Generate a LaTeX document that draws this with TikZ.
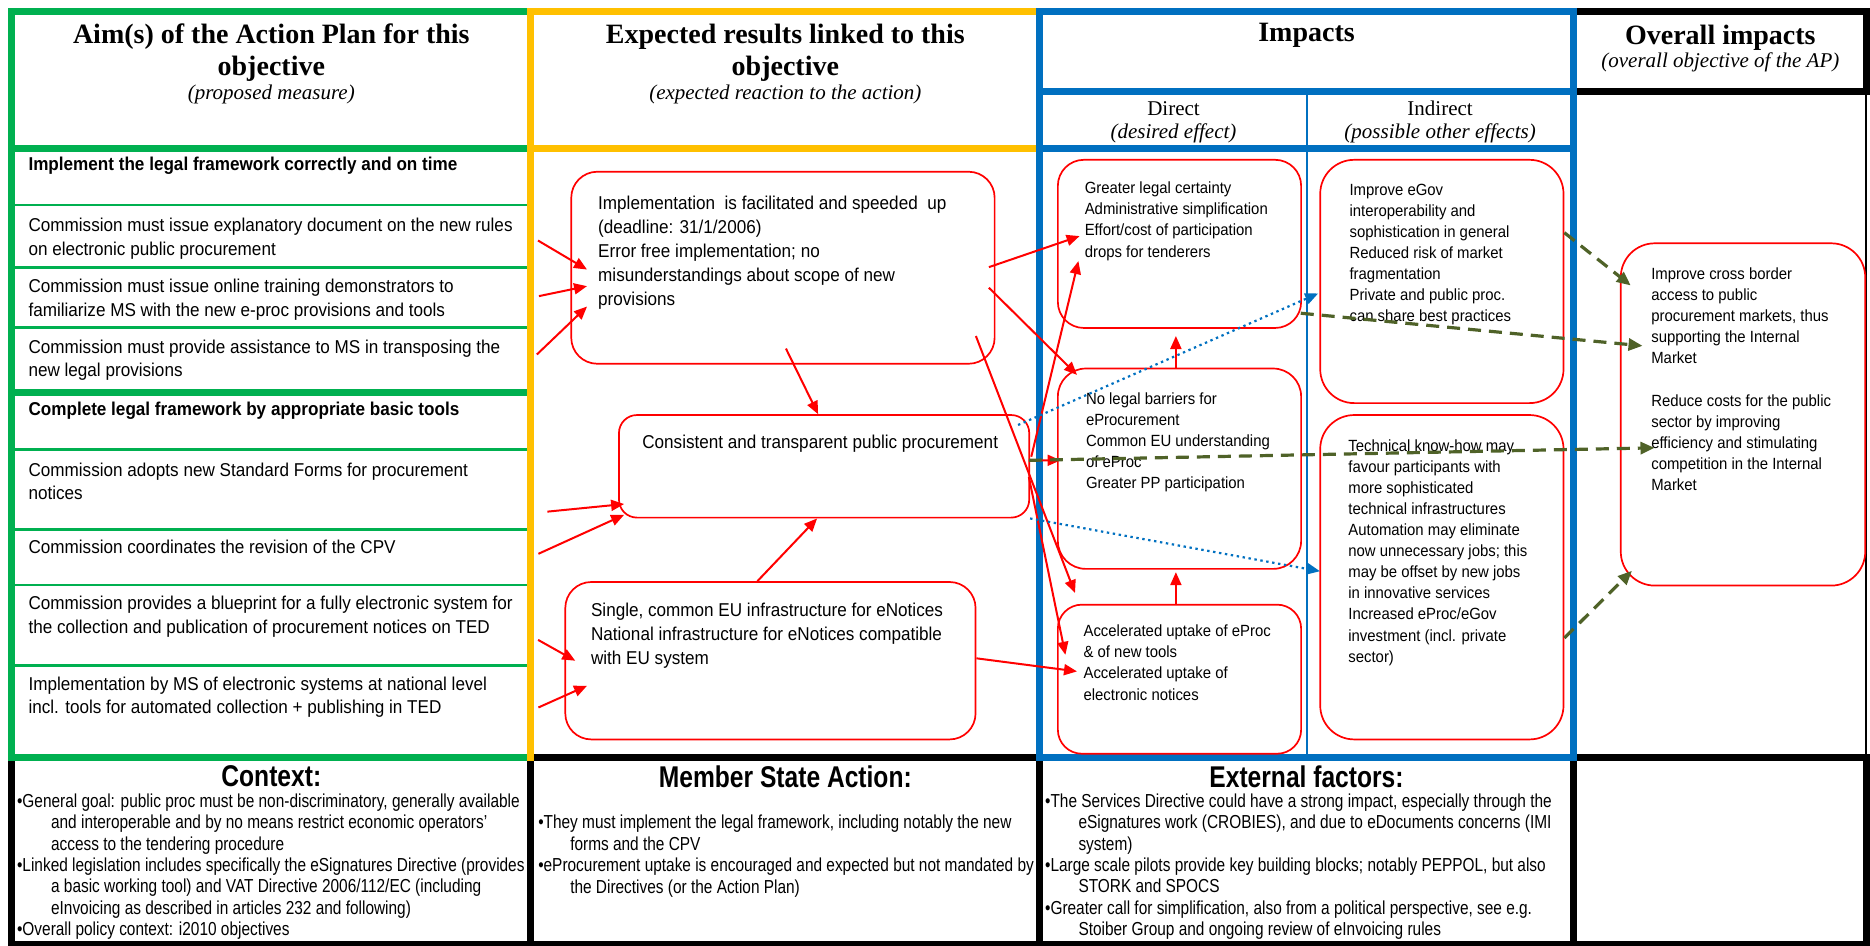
\documentclass[tikz,border=0pt]{standalone}
\usepackage{fontspec}
\setmainfont{Liberation Serif}
\newfontfamily\boxfont[FakeStretch=0.92]{Liberation Sans}
\newfontfamily\notefont[FakeStretch=0.82]{Liberation Sans}
\usetikzlibrary{arrows.meta, positioning, calc, fit}

\definecolor{aimgreen}{HTML}{00B050}
\definecolor{resyellow}{HTML}{FFC000}
\definecolor{impblue}{HTML}{0070C0}
\definecolor{linkolive}{HTML}{4F6228}

\tikzset{
  frame/.style={line width=3.5pt, line cap=rect},
  rowline/.style={line width=1.3pt, aimgreen},
  cell/.style={inner sep=0pt},
  coltitle/.style={anchor=north, inner sep=0pt, align=center, font=\bfseries\fontsize{14}{15.8}\selectfont},
  colnote/.style={anchor=north, inner sep=0pt, font=\itshape\fontsize{10.5}{12}\selectfont},
  subtitle/.style={anchor=north, inner sep=0pt, font=\fontsize{10.5}{12}\selectfont},
  aimtext/.style={inner sep=0pt, align=left, font=\boxfont\fontsize{9.3}{11.7}\selectfont},
  aimhead/.style={inner sep=0pt, align=left, font=\boxfont\bfseries\fontsize{9.3}{11.7}\selectfont},
  linkbox/.style={draw=red, line width=0.85pt, rounded corners=#1, inner sep=0pt},
  linkbox/.default=13pt,
  restext/.style={inner sep=0pt, align=left, font=\boxfont\fontsize{9.3}{12}\selectfont},
  imptext/.style={inner sep=0pt, align=left, font=\boxfont\fontsize{8.1}{10.55}\selectfont},
  lowtitle/.style={anchor=north, inner sep=0pt, font=\notefont\bfseries\fontsize{15}{17}\selectfont},
  lowtext/.style={anchor=north west, inner sep=0pt, align=left, font=\notefont\fontsize{9.4}{10.7}\selectfont},
  redarrow/.style={red, line width=1pt, -{Triangle[length=6.5pt,width=5.5pt]}},
  dotarrow/.style={impblue, line width=1.1pt, dash pattern=on 1.2pt off 1.8pt, -{Triangle[length=6.5pt,width=5.5pt]}},
  dasharrow/.style={linkolive, line width=1.6pt, dash pattern=on 6.5pt off 4pt, -{Triangle[length=7pt,width=6pt]}},
}

\begin{document}
\begin{tikzpicture}[x=0.5963pt, y=-0.5963pt]
\useasboundingbox (0,0) rectangle (1568,793);

% lower boxes
\draw[frame] (10,791.5) -- (10,635) -- (1565,635) -- (1565,791.5);
\draw[line width=2.5pt] (8,791.5) -- (1567,791.5);
\draw[frame] (445,635) -- (445,791) (872,635) -- (872,791) (1319,635) -- (1319,791);

% aims column
\draw[frame, aimgreen] (445,10) -- (10,10) -- (10,635) -- (445,635);
\draw[frame, aimgreen] (10,124.4) -- (445,124.4) (10,328.9) -- (445,328.9);
\foreach \y in {172,224.5,274.8,376.8,443.8,490.5,557.9}
  \draw[rowline] (10,\y) -- (445,\y);
% results column
\draw[frame, resyellow] (445,635) -- (445,10) -- (872,10);
\draw[frame, resyellow] (445,124.4) -- (872,124.4);
% overall column
\draw[frame] (1319,10) -- (1565,10) -- (1565,76.5) -- (1319,76.5);
\draw[line width=1pt] (1565,76.5) -- (1565,635);
% impacts column
\draw[frame, impblue] (872,10) rectangle (1319,635);
\draw[frame, impblue] (872,76.5) -- (1319,76.5) (872,124.4) -- (1319,124.4);
\draw[impblue, line width=1pt] (1096,76.5) -- (1096,635);

% headings
\node[coltitle] (aimtitle) at (227.5,20) {Aim(s) of the Action Plan for this\\objective};
\node[colnote] (aimnote) at (227.5,71) {(proposed measure)};
\node[coltitle] (restitle) at (658.5,20) {Expected results linked to this\\objective};
\node[colnote] (resnote) at (658.5,71) {(expected reaction to the action)};
\node[coltitle] (imptitle) at (1095.5,19.3) {Impacts};
\node[subtitle] (directhead) at (984,84.5) {Direct};
\node[colnote] (directnote) at (984,103.5) {(desired effect)};
\node[subtitle] (indirhead) at (1207.5,84.5) {Indirect};
\node[colnote] (indirnote) at (1207.5,103.5) {(possible other effects)};
\node[coltitle] (overtitle) at (1442.5,20.6) {Overall impacts};
\node[colnote] (overnote) at (1442.5,44) {(overall objective of the AP)};

% aims: rows of the left column
\node[cell, fit={(10,124.4) (445,172)}] (legalrow) {};
\node[cell, fit={(10,172) (445,224.5)}] (explrow) {};
\node[cell, fit={(10,224.5) (445,274.8)}] (trainrow) {};
\node[cell, fit={(10,274.8) (445,328.9)}] (assistrow) {};
\node[cell, fit={(10,328.9) (445,376.8)}] (toolsrow) {};
\node[cell, fit={(10,376.8) (445,443.8)}] (formsrow) {};
\node[cell, fit={(10,443.8) (445,490.5)}] (cpvrow) {};
\node[cell, fit={(10,490.5) (445,557.9)}] (bluerow) {};
\node[cell, fit={(10,557.9) (445,634)}] (msrow) {};

\node[aimhead, below right=4.4pt and 8.3pt of legalrow.north west] (legaltext) {Implement the legal framework correctly and on time};
\node[aimtext, below right=6.5pt and 8.3pt of explrow.north west] (expltext) {Commission must issue explanatory document on the new rules\\on electronic public procurement};
\node[aimtext, below right=5.8pt and 8.3pt of trainrow.north west] (traintext) {Commission must issue online training demonstrators to\\familiarize MS with the new e-proc provisions and tools};
\node[aimtext, below right=6pt and 8.3pt of assistrow.north west] (assisttext) {Commission must provide assistance to MS in transposing the\\new legal provisions};
\node[aimhead, below right=5.1pt and 8.3pt of toolsrow.north west] (toolstext) {Complete legal framework by appropriate basic tools};
\node[aimtext, below right=6.8pt and 8.3pt of formsrow.north west] (formstext) {Commission adopts new Standard Forms for procurement\\notices};
\node[aimtext, below right=5.6pt and 8.3pt of cpvrow.north west] (cpvtext) {Commission coordinates the revision of the CPV};
\node[aimtext, below right=5.7pt and 8.3pt of bluerow.north west] (bluetext) {Commission provides a blueprint for a fully electronic system for\\the collection and publication of procurement notices on TED};
\node[aimtext, below right=5.8pt and 8.3pt of msrow.north west] (mstext) {Implementation by MS of electronic systems at national level\\incl. tools for automated collection + publishing in TED};

% expected results
\node[linkbox, fit={(479,144) (834,305)}] (facil) {};
\node[linkbox=9pt, fit={(519,348) (863,434)}] (consist) {};
\node[linkbox, fit={(474,488) (818,620)}] (single) {};
\node[restext, below right=12.5pt and 13.7pt of facil.north west] (faciltext) {Implementation~ is facilitated and speeded~ up\\(deadline: 31/1/2006)\\Error free implementation; no\\misunderstandings about scope of new\\provisions};
\node[restext, below right=10pt and 11.9pt of consist.north west] (consisttext) {Consistent and transparent public procurement};
\node[restext, below right=10.7pt and 13.1pt of single.north west] (singletext) {Single, common EU infrastructure for eNotices\\National infrastructure for eNotices compatible\\with EU system};

% impacts, direct and indirect
\node[linkbox, fit={(887,134) (1091,275)}] (dir1) {};
\node[linkbox=14pt, fit={(887,309) (1091,477)}] (dir2) {};
\node[linkbox=12pt, fit={(887,507) (1091,632)}] (dir3) {};
\node[linkbox=17pt, fit={(1107,134) (1311,338)}] (ind1) {};
\node[linkbox=17pt, fit={(1107,348) (1311,620)}] (ind2) {};
\node[linkbox=17pt, fit={(1359,204) (1564,491)}] (overall) {};
\node[imptext, below right=11.3pt and 13.7pt of dir1.north west] (dir1text) {Greater legal certainty\\Administrative simplification\\Effort/cost of participation\\drops for tenderers};
\node[imptext, below right=12.2pt and 14.3pt of dir2.north west] (dir2text) {No legal barriers for\\eProcurement\\Common EU understanding\\of eProc\\Greater PP participation};
\node[imptext, below right=10.4pt and 13.1pt of dir3.north west] (dir3text) {Accelerated uptake of eProc\\\& of new tools\\Accelerated uptake of\\electronic notices};
\node[imptext, below right=12.2pt and 14.9pt of ind1.north west] (ind1text) {Improve eGov\\interoperability and\\sophistication in general\\Reduced risk of market\\fragmentation\\Private and public proc.\\can share best practices};
\node[imptext, below right=12.4pt and 14.3pt of ind2.north west] (ind2text) {Technical know-how may\\favour participants with\\more sophisticated\\technical infrastructures\\Automation may eliminate\\now unnecessary jobs; this\\may be offset by new jobs\\in innovative services\\Increased eProc/eGov\\investment (incl. private\\sector)};
\node[imptext, below right=12.5pt and 15.5pt of overall.north west] (overalltext) {Improve cross border\\access to public\\procurement markets, thus\\supporting the Internal\\Market\\[10.55pt]Reduce costs for the public\\sector by improving\\efficiency and stimulating\\competition in the Internal\\Market};

% context, member state action, external factors
\node[lowtitle] (ctxtitle) at (227.5,641.5) {Context:};
\node[lowtitle] (msatitle) at (658.5,641.5) {Member State Action:};
\node[lowtitle] (exttitle) at (1095.5,641.5) {External factors:};
\node[lowtext] (ctxtext) at (14,665.2) {•General goal: public proc must be non-discriminatory, generally available\\
  \hspace*{17pt}and interoperable and by no means restrict economic operators’\\
  \hspace*{17pt}access to the tendering procedure\\
  •Linked legislation includes specifically the eSignatures Directive (provides\\
  \hspace*{17pt}a basic working tool) and VAT Directive 2006/112/EC (including\\
  \hspace*{17pt}eInvoicing as described in articles 232 and following)\\
  •Overall policy context: i2010 objectives};
\node[lowtext] (msatext) at (451,683.2) {•They must implement the legal framework, including notably the new\\
  \hspace*{16pt}forms and the CPV\\
  •eProcurement uptake is encouraged and expected but not mandated by\\
  \hspace*{16pt}the Directives (or the Action Plan)};
\node[lowtext] (exttext) at (876,665.2) {•The Services Directive could have a strong impact, especially through the\\
  \hspace*{16.7pt}eSignatures work (CROBIES), and due to eDocuments concerns (IMI\\
  \hspace*{16.7pt}system)\\
  •Large scale pilots provide key building blocks; notably PEPPOL, but also\\
  \hspace*{16.7pt}STORK and SPOCS\\
  •Greater call for simplification, also from a political perspective, see e.g.\\
  \hspace*{16.7pt}Stoiber Group and ongoing review of eInvoicing rules};

% links from the aims
\coordinate (formslink) at (459,429);
\path[redarrow, shorten <=4pt]
  (explrow.east) edge ([xshift=8.3pt,yshift=-0.9pt]facil.west)
  (trainrow.east) edge ([xshift=8.3pt,yshift=-9.2pt]facil.west)
  (assistrow.east) edge ([xshift=8.3pt,yshift=-19.4pt]facil.west)
  (cpvrow.east) edge ([xshift=3pt,yshift=1.8pt]consist.south west)
  ([yshift=-5.4pt]bluerow.east) edge ([xshift=5.4pt]single.west)
  (msrow.east) edge ([xshift=11.3pt,yshift=-12.5pt]single.west);
\path[redarrow]
  (formslink) edge ([xshift=3pt,yshift=7.2pt]consist.south west)
  ([xshift=1.5pt,yshift=8pt]facil.south) edge ([xshift=-3pt]consist.north)
  ([xshift=-6.5pt]single.north) edge ([xshift=-3.5pt]consist.south)
  ([xshift=-3.3pt,yshift=0.3pt]facil.east) edge ([xshift=11.3pt,yshift=3.9pt]dir1.west)
  ([xshift=-3.3pt,yshift=-10pt]facil.east) edge ([xshift=10pt,yshift=-3.6pt]dir2.north west)
  ([xshift=-9.8pt,yshift=14.3pt]facil.south east) edge ([xshift=9pt,yshift=5.4pt]dir3.north west)
  ([xshift=0.6pt,yshift=4.8pt]consist.east) edge ([xshift=10.7pt,yshift=-8.6pt]dir1.west)
  ([xshift=-0.6pt,yshift=3pt]consist.east) edge ([xshift=1.8pt,yshift=4.2pt]dir2.west)
  ([xshift=-0.6pt,yshift=-5.4pt]consist.east) edge ([xshift=4.2pt,yshift=12.2pt]dir3.west)
  ([yshift=1.2pt]single.east) edge ([xshift=10pt,yshift=3.9pt]dir3.west)
  ([xshift=-1.8pt]dir2.north) edge ([xshift=-1.8pt,yshift=-3.6pt]dir1.south)
  ([xshift=-1.8pt]dir3.north) edge ([xshift=-1.8pt,yshift=-1.2pt]dir2.south);
% possible other effects
\path[dotarrow]
  ([xshift=-6pt,yshift=-5.4pt]consist.north east) edge ([xshift=-0.6pt,yshift=-6pt]ind1.west)
  (consist.south east) edge ([xshift=0.3pt,yshift=3pt]ind2.west);
% towards the overall impacts
\path[dasharrow]
  ([yshift=24.4pt]ind1.east) edge ([xshift=5.4pt,yshift=-21.5pt]overall.north west)
  ([xshift=-0.6pt,yshift=7.8pt]dir1.south east) edge ([xshift=11.3pt,yshift=34.3pt]overall.west)
  ([xshift=-0.6pt,yshift=3pt]consist.east) edge ([xshift=17.3pt,yshift=-16.7pt]overall.west)
  ([yshift=-30.4pt]ind2.east) edge ([xshift=6pt,yshift=7.8pt]overall.south west);
\end{tikzpicture}
\end{document}
